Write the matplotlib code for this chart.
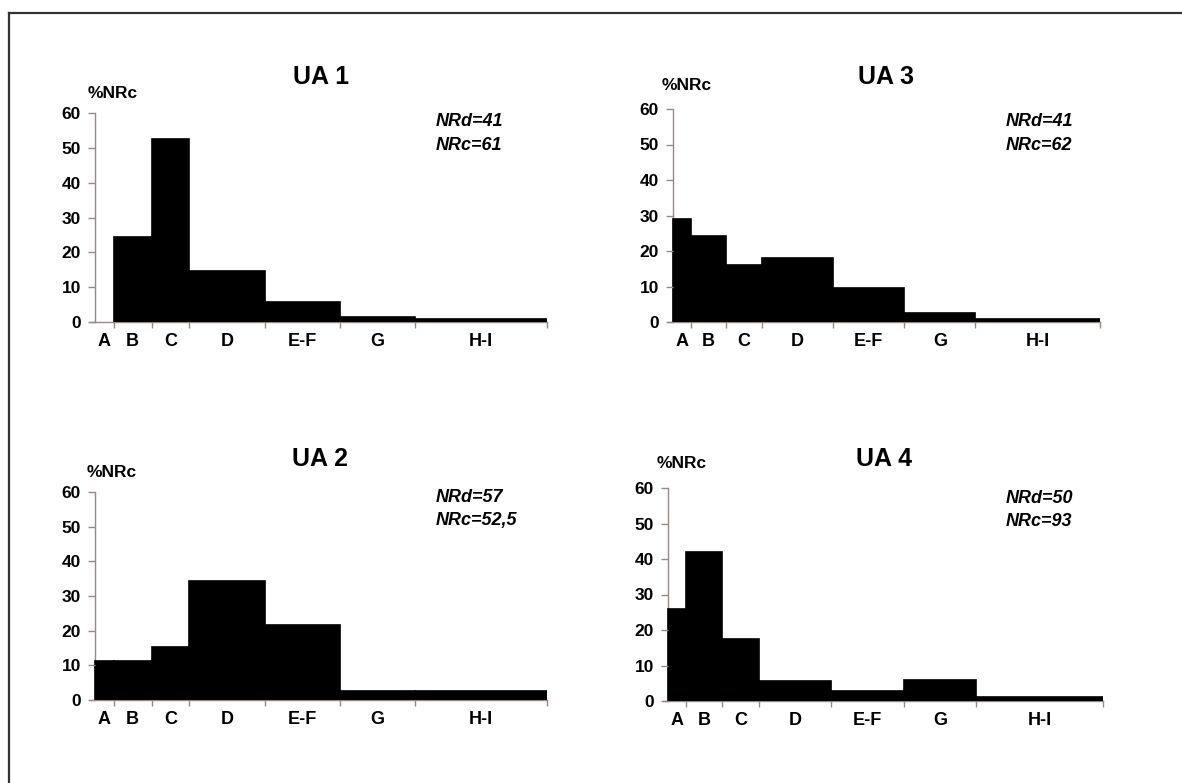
import numpy as np
import matplotlib.pyplot as plt
from matplotlib.lines import Line2D

plt.rcParams['font.family'] = ['Liberation Sans', 'DejaVu Sans']
plt.rcParams['font.weight'] = 'bold'

# diameter classes and their relative widths on the x axis
classes = ["A", "B", "C", "D", "E-F", "G", "H-I"]
class_widths = [0.5, 1, 1, 2, 2, 2, 3.5]

# %NRc per class
ua1 = [0, 24.4, 52.4, 14.6, 5.6, 1.4, 0.8]
ua2 = [11.3, 11.3, 15.3, 34.3, 21.7, 2.7, 2.7]
ua3 = [29.0, 24.3, 16.1, 17.9, 9.7, 2.5, 0.9]
ua4 = [25.9, 42.0, 17.4, 5.5, 2.7, 5.8, 1.0]

titles = ["UA 1", "UA 2", "UA 3", "UA 4"]
nrd = ["41", "57", "41", "50"]
nrc = ["61", "52,5", "62", "93"]
series = [ua1, ua2, ua3, ua4]

edges = np.concatenate([[0], np.cumsum(class_widths)])
centers = (edges[:-1] + edges[1:]) / 2

W, H = 1182, 783
fig = plt.figure(figsize=(W / 100, H / 100), dpi=100)

# axes boxes in pixels: x of y-axis, y of zero line, y of 60, right end
boxes = [
    (95, 322, 113, 547),
    (95, 700, 492, 547),
    (673, 322, 109, 1100),
    (668, 701, 488, 1103),
]
# text anchors in pixels: title centre, %NRc centre, NRd text left/top
title_pos = [(321, 77), (320, 459), (886, 77), (884, 459)]
ylab_pos = [(113, 93), (112, 473), (687, 86), (682, 464)]
note_pos = [(436, 122), (436, 497), (1006, 122), (1006, 498)]

axis_col = "#9a8888"
ext = 5  # px the x axis sticks out left of the y axis


def fx(px):
    return px / W


def fy(py):
    return 1 - py / H


for i, ((x0, y0, y60, x1), vals) in enumerate(zip(boxes, series)):
    unit = (x1 - x0) / edges[-1]
    left = x0 - ext
    ax = fig.add_axes([fx(left), fy(y0), (x1 - left) / W, (y0 - y60) / H])
    lw = [1.2 if v > 0 else 0 for v in vals]
    ax.bar(edges[:-1], vals, width=class_widths, align="edge", color="black",
           edgecolor="black", linewidth=lw)
    ax.set_xlim(-ext / unit, edges[-1])
    ax.set_ylim(0, 60)
    for s in ["top", "right"]:
        ax.spines[s].set_visible(False)
    ax.spines["left"].set_position(("data", 0))
    for s in ["left", "bottom"]:
        ax.spines[s].set_color(axis_col)
        ax.spines[s].set_linewidth(1.0)
        ax.spines[s].set_zorder(0.5)
    ax.set_yticks(range(0, 61, 10))
    ax.tick_params(axis="y", length=5, width=1, color=axis_col, pad=5,
                   labelsize=12.5)
    ax.set_xticks(edges[1:])
    ax.set_xticklabels([])
    ax.tick_params(axis="x", which="major", length=4, width=1, color=axis_col)
    ax.set_xticks(centers, minor=True)
    ax.set_xticklabels(classes, minor=True)
    ax.tick_params(axis="x", which="minor", length=0, pad=8, labelsize=13)
    for lab in ax.get_xticklabels(minor=True) + ax.get_yticklabels():
        lab.set_fontweight("bold")

    tx, ty = title_pos[i]
    fig.text(fx(tx), fy(ty), titles[i], fontsize=18, fontweight="bold",
             ha="center", va="center")
    lx, ly = ylab_pos[i]
    fig.text(fx(lx), fy(ly), "%NRc", fontsize=12.5, fontweight="bold",
             ha="center", va="center")
    nx, ny = note_pos[i]
    fig.text(fx(nx), fy(ny), f"NRd={nrd[i]}", fontsize=13, fontweight="bold",
             style="italic", ha="left", va="center")
    fig.text(fx(nx), fy(ny + 23), f"NRc={nrc[i]}", fontsize=13,
             fontweight="bold", style="italic", ha="left", va="center")

# frame lines on the top and left
fig.add_artist(Line2D([fx(8.5), 1], [fy(12.5), fy(12.5)],
                      color="#333333", linewidth=1.6))
fig.add_artist(Line2D([fx(8.5), fx(8.5)], [0, fy(12.5)],
                      color="#333333", linewidth=1.6))

fig.savefig("out.png", dpi=100)
